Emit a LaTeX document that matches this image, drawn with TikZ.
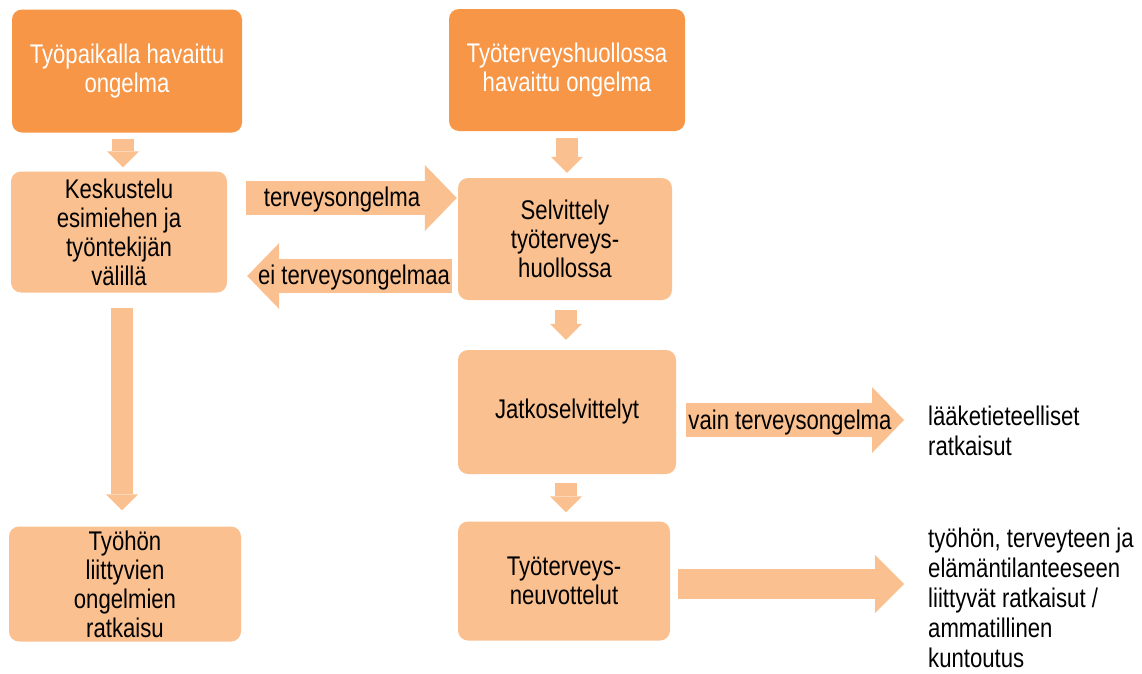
\documentclass[tikz,border=0pt]{standalone}
\usepackage{fontspec}
\setmainfont{Liberation Sans}[FakeStretch=0.82]
\usetikzlibrary{arrows.meta}

\definecolor{darkorange}{HTML}{F79646}
\definecolor{peach}{HTML}{FAC090}

\tikzset{
  box/.style={rounded corners=10pt, fill=peach, inner sep=0pt, align=center,
    font=\fontsize{27}{29}\selectfont},
  topbox/.style={box, fill=darkorange, text=white},
  note/.style={anchor=west, align=left, inner sep=0pt, font=\fontsize{27}{30}\selectfont},
  lbl/.style={inner sep=0pt, font=\fontsize{27}{29}\selectfont},
  vflow/.style={draw=peach, line width=22pt, -{Triangle[width=32pt,length=16pt,line width=0pt]}},
  hflow/.style={draw=peach, line width=34pt, -{Triangle[width=66pt,length=32pt,line width=0pt]}}
}

\begin{document}
\begin{tikzpicture}[x=1pt,y=-1pt]
\useasboundingbox (0,0) rectangle (1142,673);

% left column
\node[topbox, minimum width=230pt, minimum height=123pt] (p1) at (127,71) {Työpaikalla havaittu\\ongelma};
\node[box, minimum width=216pt, minimum height=121pt] (k) at (119,232) {Keskustelu\\esimiehen ja\\työntekijän\\välillä};
\node[box, minimum width=232pt, minimum height=115pt] (w) at (125,584) {Työhön\\liittyvien\\ongelmien\\ratkaisu};

% right column
\node[topbox, minimum width=236pt, minimum height=122pt] (p2) at (567,70) {Työterveyshuollossa\\havaittu ongelma};
\node[box, minimum width=214pt, minimum height=122pt] (s) at (565,239) {Selvittely\\työterveys-\\huollossa};
\node[box, minimum width=218pt, minimum height=124pt] (j) at (567,412) {Jatkoselvittelyt};
\node[box, minimum width=212pt, minimum height=119pt] (t) at (564,581) {Työterveys-\\neuvottelut};

% outcomes
\node[note] (lk) at (928,431) {lääketieteelliset\\ratkaisut};
\node[note] (rk) at (928,598) {työhön, terveyteen ja\\elämäntilanteeseen\\liittyvät ratkaisut /\\ammatillinen\\kuntoutus};

% arrows
\draw[vflow, shorten <=6pt, shorten >=4pt] ([xshift=-4pt]p1.south) -- ([xshift=4pt]k.north);
\draw[vflow, shorten <=15pt, shorten >=16pt] ([xshift=3pt]k.south) -- ([xshift=3pt]k.south |- w.north);
\draw[vflow, shorten <=7pt, shorten >=5pt] (p2.south) -- (p2.south |- s.north);
\draw[vflow, shorten <=10pt, shorten >=10pt] ([xshift=1pt]s.south) -- ([xshift=1pt]s.south |- j.north);
\draw[vflow, shorten <=9pt, shorten >=9pt] ([xshift=-1pt]j.south) -- ([xshift=-1pt]j.south |- t.north);

\draw[hflow, shorten <=19pt, shorten >=1pt] ([yshift=34pt]k.east) -- ([yshift=34pt]k.east -| s.west);
\draw[hflow, shorten <=6pt, shorten >=20pt] ([yshift=-37pt]s.west) -- ([yshift=-37pt]s.west -| k.east);
\draw[hflow, shorten <=10pt, shorten >=24pt] ([yshift=-8pt]j.east) -- ([yshift=-8pt]j.east -| lk.west);
\draw[hflow, line width=30pt, -{Triangle[width=58pt,length=29pt,line width=0pt]}, shorten <=8pt, shorten >=24pt]
  ([yshift=-3pt]t.east) -- ([yshift=-3pt]t.east -| rk.west);

% arrow labels
\node[lbl] (l1) at (342,200) {terveysongelma};
\node[lbl] (l2) at (354,278) {ei terveysongelmaa};
\node[lbl] (l3) at (790,423) {vain terveysongelma};

\end{tikzpicture}
\end{document}
